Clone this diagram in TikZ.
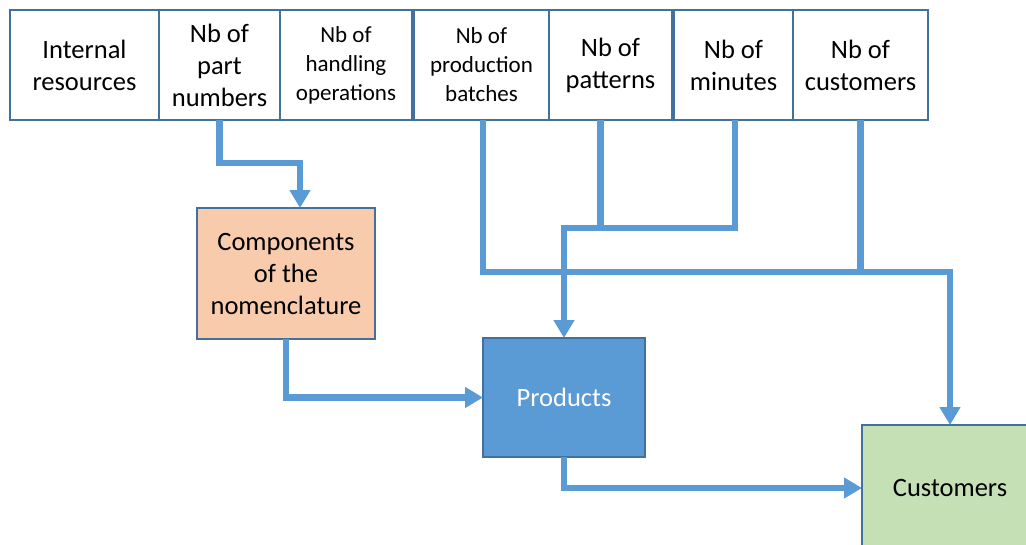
\documentclass[tikz,border=0pt]{standalone}
\usepackage{fontspec}
\setmainfont{Carlito}
\usetikzlibrary{arrows.meta}
\definecolor{flowblue}{HTML}{5B9BD5}
\definecolor{edgeblue}{HTML}{41719C}
\definecolor{peach}{HTML}{F8CBAD}
\definecolor{mint}{HTML}{C5E0B4}

\begin{document}
\begin{tikzpicture}[x=1pt,y=-1pt,
  box/.style={draw=edgeblue, line width=1.2pt, fill=white, inner sep=0pt, outer sep=0pt,
              align=center, minimum height=110pt, font=\fontsize{26.5}{32}\selectfont},
  smallbox/.style={box, font=\fontsize{23}{29}\selectfont},
  flowline/.style={draw=flowblue, line width=6.5pt},
  flow/.style={flowline, -{Triangle[width=20pt,length=18pt]}},
]
\useasboundingbox (0,0) rectangle (1026,544);

% top row of counters
\node[box, minimum width=149pt] (ir) at (84.5,65) {Internal\\resources};
\node[box, minimum width=121pt] (pn) at (219.5,65) {Nb of\\part\\numbers};
\node[smallbox, minimum width=132pt] (ho) at (346,65) {Nb of\\handling\\operations};
\node[smallbox, minimum width=135pt] (pb) at (481.5,65) {Nb of\\production\\batches};
\node[box, minimum width=123pt] (pt) at (610.5,65) {Nb of\\patterns};
\node[box, minimum width=119pt] (mn) at (733.5,65) {Nb of\\minutes};
\node[box, minimum width=135pt] (cu) at (860.5,65) {Nb of\\customers};

% derived quantities
\node[box, fill=peach, minimum width=178pt, minimum height=131pt] (comp) at (286,273.5)
  {Components\\of the\\nomenclature};
\node[box, fill=flowblue, text=white, minimum width=162pt, minimum height=119pt] (prod) at (564,397.5)
  {Products};
\node[box, fill=mint, minimum width=176pt, minimum height=126pt] (cust) at (950,488)
  {Customers};

% connectors
\coordinate (c1) at ([xshift=14pt]comp.north);
\draw[flow] (pn.south) -- ++(0,43) -| (c1);
\draw[flow] (comp.south) |- (prod.west);
\draw[flowline] ([xshift=-10pt]pt.south) -- ++(0,108);
\draw[flow] ([xshift=1.5pt]mn.south) -- ++(0,108) -| (prod.north);
\draw[flowline] (cu.south) -- ++(0,152);
\draw[flow] ([xshift=1.5pt]pb.south) -- ++(0,152) -| (cust.north);
\draw[flow] (prod.south) |- (cust.west);
\end{tikzpicture}
\end{document}
